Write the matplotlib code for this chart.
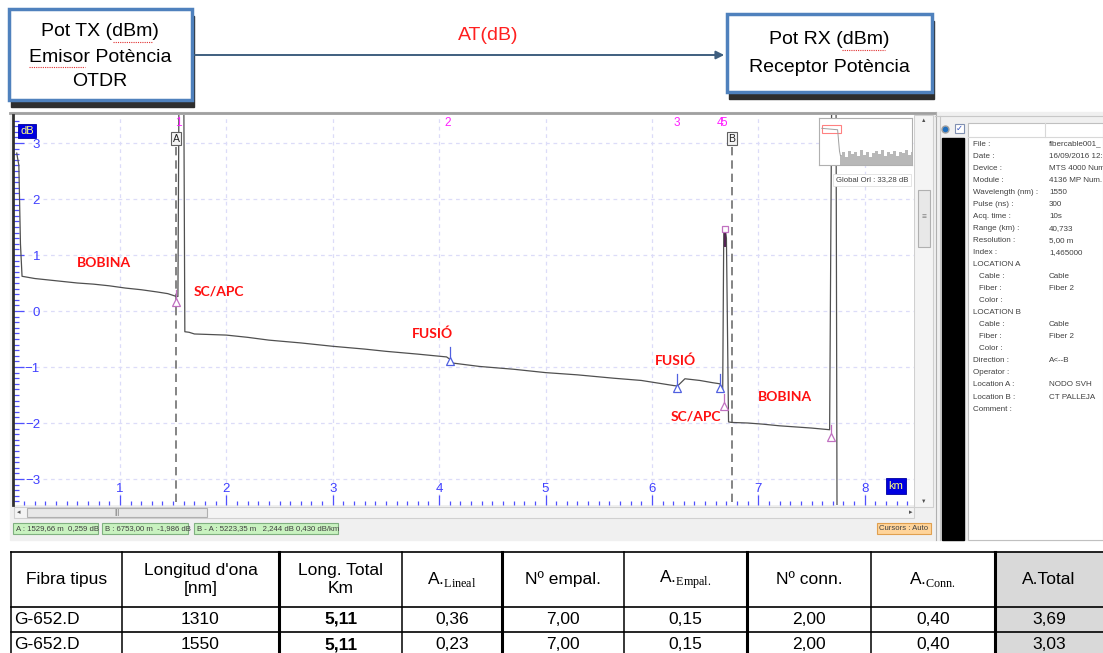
import matplotlib.pyplot as plt
from matplotlib.patches import Rectangle
import numpy as np

W, H = 1103, 653

# OTDR trace (km, dB)
trace_km = [0.03, 0.05, 0.065, 0.08, 0.2, 0.3, 0.45, 0.6, 0.75, 0.9, 1.05, 1.2, 1.35, 1.45, 1.53,
            1.545, 1.555, 1.60, 1.61, 1.65, 1.70, 1.85, 2.0, 2.2, 2.4, 2.7, 3.0, 3.3, 3.5, 3.8, 4.07,
            4.10, 4.13, 4.38, 4.7, 5.0, 5.3, 5.64, 5.9, 6.20, 6.24, 6.31, 6.45, 6.57, 6.64,
            6.665, 6.675, 6.69, 6.70, 6.72, 6.75, 6.9, 7.04, 7.2, 7.35, 7.5, 7.67, 7.69, 7.73, 7.74]
trace_db = [2.82, 2.6, 1.2, 0.62, 0.58, 0.56, 0.53, 0.50, 0.48, 0.45, 0.41, 0.38, 0.34, 0.31, 0.26,
            0.26, 4.0, 4.0, -0.37, -0.38, -0.41, -0.42, -0.43, -0.47, -0.52, -0.57, -0.63, -0.68, -0.72, -0.77, -0.82,
            -0.86, -0.93, -0.99, -1.04, -1.10, -1.14, -1.20, -1.24, -1.33, -1.34, -1.21, -1.24, -1.28, -1.30,
            -1.44, 1.40, 1.46, 1.30, -1.98, -1.99, -2.00, -2.02, -2.05, -2.07, -2.09, -2.12, 4.0, 4.0, -4.0]

# events
event_num = ["1", "2", "3", "4", "5"]
event_km = [1.545, 4.08, 6.23, 6.64, 6.68]
fusion_km = [4.10, 6.24, 6.64]
fusion_db = [-0.89, -1.37, -1.37]
conn_km = [1.53, 6.68, 7.68]
conn_db = [0.16, -1.70, -2.25]
peak_km, peak_db = 6.69, 1.46
cursor_km = [1.53, 6.753]
cursor_lbl = ["A", "B"]

# minimap noise floor
mini_noise = [0.22, 0.28, 0.18, 0.3, 0.24, 0.27, 0.2, 0.31, 0.22, 0.28, 0.17, 0.26, 0.3, 0.23,
              0.31, 0.19, 0.27, 0.24, 0.3, 0.2, 0.28, 0.25, 0.31, 0.21, 0.27]

info_labels = ["File :", "Date :", "Device :", "Module :", "Wavelength (nm) :", "Pulse (ns) :",
               "Acq. time :", "Range (km) :", "Resolution :", "Index :", "LOCATION A", "  Cable :",
               "  Fiber :", "  Color :", "LOCATION B", "  Cable :", "  Fiber :", "  Color :",
               "Direction :", "Operator :", "Location A :", "Location B :", "Comment :"]
info_values = ["fibercable001_", "16/09/2016 12:5", "MTS 4000 Num", "4136 MP Num.", "1550", "300",
               "10s", "40,733", "5,00 m", "1,465000", "", "Cable", "Fiber 2", "", "", "Cable",
               "Fiber 2", "", "A<--B", "", "NODO SVH", "CT PALLEJA", ""]

status = ["A : 1529,66 m  0,259 dB", "B : 6753,00 m  -1,986 dB",
          "B - A : 5223,35 m   2,244 dB 0,430 dB/km"]

# table
headers = ["Fibra tipus", "Longitud d'ona\n[nm]", "Long. Total\nKm", "A.", "Nº empal.", "A.",
           "Nº conn.", "A.", "A.Total"]
header_sub = [None, None, None, "Lineal", None, "Empal.", None, "Conn.", None]
fibra = ["G-652.D", "G-652.D"]
longitud = [1310, 1550]
long_total = [5.11, 5.11]
a_lineal = [0.36, 0.23]
n_empal = [7.00, 7.00]
a_empal = [0.15, 0.15]
n_conn = [2.00, 2.00]
a_conn = [0.40, 0.40]
a_total = [3.69, 3.03]

plt.rcParams['font.family'] = ['Liberation Sans', 'DejaVu Sans']
plt.rcParams['mathtext.fontset'] = 'custom'
plt.rcParams['mathtext.rm'] = 'Liberation Serif'

fig = plt.figure(figsize=(W / 100, H / 100), dpi=100)


def px_axes(x0, y0, x1, y1, z=1):
    a = fig.add_axes([x0 / W, 1 - y1 / H, (x1 - x0) / W, (y1 - y0) / H])
    a.set_zorder(z)
    return a


# background overlay in pixel coords
ov = px_axes(0, 0, W, H, z=0)
ov.set_xlim(0, W)
ov.set_ylim(H, 0)
ov.axis('off')

# top diagram
for (x0, y0, x1, y1) in [(9, 9, 192, 100), (727, 14, 932, 92)]:
    ov.add_patch(Rectangle((x0 + 2, y0 + 7), x1 - x0, y1 - y0, color='#2e2e2e', zorder=1))
    ov.add_patch(Rectangle((x0, y0), x1 - x0, y1 - y0, facecolor='white', edgecolor='#4f81bd',
                           lw=2.5, zorder=2))
for txt, x, y in [("Pot TX (dBm)", 100, 32), ("Emisor Potència", 100, 57), ("OTDR", 100, 81),
                  ("Pot RX (dBm)", 829, 40), ("Receptor Potència", 829, 67)]:
    ov.text(x, y, txt, ha='center', va='center', fontsize=14, zorder=3)
for (x0, x1, y) in [(113, 153, 42), (29, 85, 67), (842, 885, 50)]:
    ov.plot([x0, x1], [y, y], color='#e03030', lw=0.8, ls=(0, (1, 1)), zorder=3)
ov.annotate('', xy=(727, 55), xytext=(192, 55),
            arrowprops=dict(arrowstyle='-|>', color='#3f5f7f', lw=1.4, mutation_scale=12))
ov.text(488, 35, "AT(dB)", color='#ff2020', ha='center', va='center', fontsize=14)

# OTDR window chrome
ov.add_patch(Rectangle((10, 112), 925, 428, color='#f0f0f0', zorder=0))
ov.plot([10, 935], [113, 113], color='#a0a0a0', lw=2)
ov.add_patch(Rectangle((914, 115), 19, 392, facecolor='#f4f4f4', edgecolor='#d0d0d0', lw=0.8))
ov.add_patch(Rectangle((918, 190), 12, 57, facecolor='#e8e8e8', edgecolor='#b0b0b0', lw=0.8))
ov.text(924, 218, "≡", ha='center', va='center', fontsize=6, color='#808080')
ov.text(924, 121, "▲", ha='center', va='center', fontsize=4, color='#505050')
ov.text(924, 501, "▼", ha='center', va='center', fontsize=4, color='#505050')
ov.add_patch(Rectangle((14, 507), 900, 11, facecolor='#f4f4f4', edgecolor='#d0d0d0', lw=0.8))
ov.add_patch(Rectangle((27, 508), 180, 9, facecolor='#e8e8e8', edgecolor='#b0b0b0', lw=0.8))
ov.text(117, 512.5, "|||", ha='center', va='center', fontsize=5, color='#808080')
ov.text(19, 512.5, "◂", ha='center', va='center', fontsize=5, color='#505050')
ov.text(911, 512.5, "▸", ha='center', va='center', fontsize=5, color='#505050')
for (x0, x1), s in zip([(13, 98), (102, 188), (194, 338)], status):
    ov.add_patch(Rectangle((x0, 523), x1 - x0, 11, facecolor='#c9f2c0', edgecolor='#80b080', lw=0.8))
    ov.text(x0 + 3, 528.5, s, ha='left', va='center', fontsize=5.6, color='#404040')
ov.add_patch(Rectangle((877, 523), 54, 11, facecolor='#ffd49a', edgecolor='#e0a050', lw=0.8))
ov.text(904, 528.5, "Cursors : Auto", ha='center', va='center', fontsize=5.6, color='#404040')

# right info panel
ov.add_patch(Rectangle((935, 112), 168, 428, color='#f0f0f0', zorder=0))
ov.plot([936, 936], [112, 540], color='#b0b0b0', lw=0.8)
ov.plot([940, 940], [116, 540], color='#c8c8c8', lw=0.8)
ov.plot([935, 1103], [116, 116], color='#c8c8c8', lw=0.8)
ov.plot([945], [129], 'o', ms=5, color='#2070c0', mec='#a0a0a0')
ov.add_patch(Rectangle((955, 124), 9, 9, facecolor='white', edgecolor='#8090b0', lw=0.8))
ov.text(959.5, 128.5, "✓", ha='center', va='center', fontsize=6, color='#3050c0',
        family=['DejaVu Sans'])
ov.add_patch(Rectangle((942, 138), 22, 402, color='black'))
ov.add_patch(Rectangle((968, 123), 135, 417, facecolor='white', edgecolor='#c0c0c0', lw=0.8))
ov.plot([968, 1103], [137, 137], color='#d8d8d8', lw=0.8)
ov.plot([1045, 1045], [123, 137], color='#d8d8d8', lw=0.8)
for i, (lab, val) in enumerate(zip(info_labels, info_values)):
    y = 144 + i * 12.05
    xl = 979 if lab.startswith("  ") else 973
    ov.text(xl, y, lab.strip(), ha='left', va='center', fontsize=5.8, color='#404040')
    ov.text(1049, y, val, ha='left', va='center', fontsize=5.8, color='#404040')

# main OTDR trace
ax = px_axes(13, 115, 914, 505, z=1)
ax.set_facecolor('white')
ax.set_xlim(-0.005, 8.463)
ax.set_ylim(-3.464, 3.5)
ax.plot(trace_km, trace_db, color='#505050', lw=0.9, zorder=3)
for x, lab in zip(cursor_km, cursor_lbl):
    ax.plot([x, x], [2.93, -3.5], color='#707070', lw=1.2, ls=(0, (5, 3)), zorder=2)
    ax.text(x, 3.08, lab, ha='center', va='center', fontsize=7.5, color='#202020', zorder=5,
            bbox=dict(boxstyle='square,pad=0.15', fc='#f4f4f4', ec='#606060', lw=0.8))
for x, lab in zip(event_km, event_num):
    ax.text(x, 3.36, lab, ha='center', va='center', fontsize=8.5, color='#ff22ff', zorder=5)
for x, y in zip(fusion_km, fusion_db):
    ax.plot([x, x], [y, y + 0.24], color='#5060e0', lw=0.9, zorder=4)
    ax.plot([x], [y], marker='^', ms=5.5, mfc='white', mec='#5060e0', mew=0.9, zorder=4)
for x, y in zip(conn_km, conn_db):
    ax.plot([x, x], [y, y + 0.22], color='#c070c0', lw=0.9, zorder=4)
    ax.plot([x], [y], marker='^', ms=5.5, mfc='white', mec='#c070c0', mew=0.9, zorder=4)
ax.plot([peak_km, peak_km], [peak_db, peak_db - 0.3], color='#502050', lw=1.4, zorder=4)
ax.plot([peak_km], [peak_db], marker='s', ms=4, mfc='white', mec='#c070c0', mew=0.9, zorder=4)

red = dict(color='#ff1010', fontsize=10, fontweight='bold', family=['Lato', 'DejaVu Sans'],
           ha='center', va='center', zorder=5)
ax.text(0.85, 0.86, "BOBINA", **red)
ax.text(1.93, 0.34, "SC/APC", **red)
ax.text(3.94, -0.41, "FUSIÓ", **red)
ax.text(6.22, -0.88, "FUSIÓ", **red)
ax.text(6.41, -1.88, "SC/APC", **red)
ax.text(7.25, -1.53, "BOBINA", **red)

ax.set_xticks(range(1, 9))
ax.set_xticks(np.arange(0.1, 8.45, 0.1), minor=True)
ax.set_yticks(range(-3, 4))
ax.set_yticks(np.arange(-3.4, 3.45, 0.1), minor=True)
ax.tick_params(axis='x', which='major', direction='in', length=7, width=0.9, color='#5050ff',
               labelcolor='#4040ff', labelsize=9.5, pad=-16)
ax.tick_params(axis='x', which='minor', direction='in', length=3, width=0.9, color='#5050ff')
ax.tick_params(axis='y', which='major', direction='in', length=8, width=0.9, color='#5050ff',
               labelcolor='#4040ff', labelsize=9.5, pad=-19.5)
ax.tick_params(axis='y', which='minor', direction='in', length=4, width=0.9, color='#5050ff')
for t in ax.get_yticklabels():
    t.set_horizontalalignment('right')
ax.grid(True, which='major', color='#dcdcf8', ls=(0, (3, 3)), lw=0.9)
for s in ['top', 'right', 'bottom']:
    ax.spines[s].set_visible(False)
ax.spines['left'].set_color('#303030')
ax.spines['left'].set_linewidth(2)

# overlay on top of the trace: axis unit boxes, minimap
top = px_axes(0, 0, W, H, z=3)
top.set_xlim(0, W)
top.set_ylim(H, 0)
top.axis('off')
top.text(27, 131, "dB", ha='center', va='center', fontsize=8, color='#ffff80',
         bbox=dict(boxstyle='square,pad=0.2', fc='#0000e0', ec='#0000a0', lw=0.6))
top.text(896, 486, "km", ha='center', va='center', fontsize=8, color='#ffff80',
         bbox=dict(boxstyle='square,pad=0.25', fc='#0000e0', ec='#0000a0', lw=0.6))
top.text(872, 180, "Global Orl : 33,28 dB", ha='center', va='center', fontsize=5.6,
         color='#404040', bbox=dict(boxstyle='square,pad=0.35', fc='white', ec='#e0e0e0', lw=0.6))

mm = px_axes(819, 118, 912, 165, z=4)
mm.set_xlim(0, 1)
mm.set_ylim(0, 1)
mm.set_xticks([])
mm.set_yticks([])
for s in mm.spines.values():
    s.set_color('#b0b0b0')
    s.set_linewidth(0.8)
mm_x = np.linspace(0.23, 1.0, len(mini_noise))
mm.fill_between(mm_x, 0, mini_noise, step='mid', color='#b8b8b8', lw=0)
mm.plot([0.03, 0.2, 0.22, 0.23], [0.78, 0.75, 0.3, 0.2], color='#a0a0a0', lw=0.7)
mm.add_patch(Rectangle((0.03, 0.68), 0.21, 0.17, fill=False, ec='#ff8080', lw=0.8))

# table
col_x = [11, 122, 279, 402, 502, 624, 747, 871, 995, 1103]
row_y = [552, 607, 632, 657]
thick = {279, 502, 747, 995}
ov.add_patch(Rectangle((col_x[-2], row_y[0]), col_x[-1] - col_x[-2], row_y[-1] - row_y[0],
                       color='#d9d9d9', zorder=1))
for y in row_y:
    ov.plot([col_x[0], col_x[-1]], [y, y], color='black', lw=1.2, zorder=2)
for x in col_x[:-1]:
    ov.plot([x, x], [row_y[0], row_y[-1]], color='black', lw=2.2 if x in thick else 1.1, zorder=2)

hy = (row_y[0] + row_y[1]) / 2
for i, (h, sub) in enumerate(zip(headers, header_sub)):
    cx = (col_x[i] + col_x[i + 1]) / 2
    if sub:
        ov.text(cx, hy, h + r'$_{\mathrm{' + sub + '}}$', ha='center',
                va='center', fontsize=12.5, zorder=3)
    else:
        ov.text(cx, hy, h, ha='center', va='center', fontsize=12.5, linespacing=1.3, zorder=3)


def fmt(v):
    return f"{v:.2f}".replace('.', ',')


for r in range(2):
    cy = (row_y[r + 1] + row_y[r + 2]) / 2
    ov.text(col_x[0] + 3, cy, fibra[r], ha='left', va='center', fontsize=12.5, zorder=3)
    cells = [str(longitud[r]), fmt(long_total[r]), fmt(a_lineal[r]), fmt(n_empal[r]),
             fmt(a_empal[r]), fmt(n_conn[r]), fmt(a_conn[r]), fmt(a_total[r])]
    for j, c in enumerate(cells):
        cx = (col_x[j + 1] + col_x[j + 2]) / 2
        ov.text(cx, cy, c, ha='center', va='center', fontsize=12.5,
                fontweight='bold' if j == 1 else 'normal', zorder=3)

fig.savefig('out.png', dpi=100)
